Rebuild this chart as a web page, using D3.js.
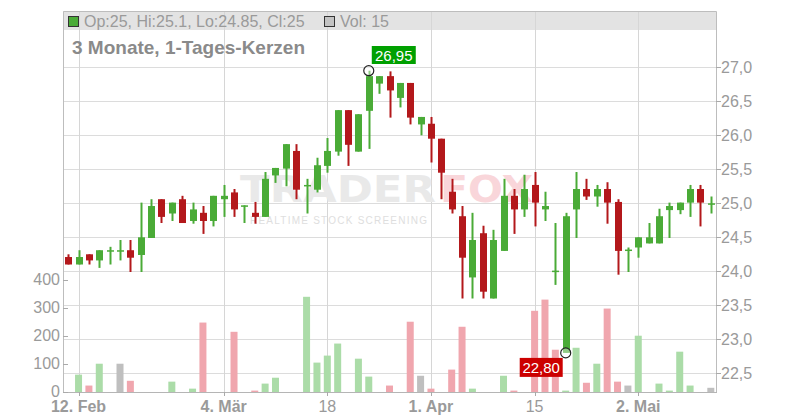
<!DOCTYPE html>
<html><head><meta charset="utf-8">
<script src="https://cdn.jsdelivr.net/npm/d3@7"></script>
<style>body{margin:0;background:#fff}svg{display:block;font-family:"Liberation Sans",Arial,sans-serif}</style>
</head><body><svg id="c" width="800" height="420"></svg>
<script>
// ---------- DATA ----------
const opens  = [24.21,24.10,24.25,24.16,24.30,24.30,24.31,24.24,24.49,25.06,24.85,25.06,24.74,24.86,24.74,25.06,25.16,24.96,24.86,24.80,25.41,25.51,25.77,25.26,25.20,25.55,25.76,26.37,25.76,26.36,26.76,26.87,26.55,26.77,26.16,26.17,25.95,25.17,24.81,23.91,24.56,23.60,24.30,25.11,24.91,25.27,24.91,24.00,22.80,24.91,25.21,25.10,25.21,25.02,24.31,24.35,24.41,24.41,24.90,24.90,25.01,25.21,25.00];
const highs  = [24.25,24.31,24.25,24.31,24.36,24.46,24.46,25.01,25.06,25.06,25.01,25.11,25.01,24.96,25.11,25.27,25.21,24.97,25.02,25.46,25.52,25.87,25.87,25.36,25.67,25.96,26.37,26.37,26.31,26.95,26.87,26.94,26.77,26.77,26.27,26.27,25.95,25.36,24.96,24.86,24.67,24.61,25.36,25.21,25.42,25.46,25.17,24.71,24.86,25.46,25.36,25.27,25.31,25.06,24.35,24.50,24.71,24.92,25.01,25.01,25.27,25.27,25.10];
const lows   = [24.10,24.10,24.10,24.05,24.10,24.16,23.99,23.99,24.49,24.71,24.74,24.71,24.70,24.55,24.66,24.80,24.80,24.71,24.70,24.80,25.30,25.25,25.06,24.85,25.16,25.45,25.70,25.55,25.76,25.80,26.61,26.26,26.41,26.16,26.00,25.60,25.06,24.85,23.60,23.60,23.60,23.60,24.30,24.55,24.80,24.66,24.74,23.80,22.80,24.49,25.05,24.95,24.70,23.95,23.99,24.20,24.41,24.41,24.49,24.84,24.80,24.66,24.85];
const closes = [24.10,24.21,24.16,24.31,24.31,24.31,24.20,24.50,24.96,24.80,25.01,24.71,24.91,24.74,25.11,25.11,24.91,24.97,24.80,25.36,25.52,25.87,25.20,25.27,25.56,25.77,26.37,25.86,26.31,26.87,26.87,26.66,26.77,26.26,26.27,25.95,25.45,24.91,24.20,24.46,23.70,24.46,25.11,24.91,25.21,25.01,24.96,24.01,24.81,25.21,25.10,25.21,25.01,24.30,24.32,24.50,24.50,24.81,24.96,25.01,25.21,25.01,25.00];
const volumes = [0,62,23,101,0,101,40,0,0,0,37,0,12,248,0,0,215,0,5,30,51,0,0,340,105,130,173,0,119,55,0,23,0,251,58,12,0,80,233,12,0,0,58,5,0,290,330,151,5,158,33,101,298,37,23,201,0,30,5,144,23,0,15];
// volume direction: 1 = up, -1 = down, 0 = unchanged
const volumeDir = [0,1,-1,1,0,0,-1,0,0,0,1,0,1,-1,0,0,-1,0,-1,1,1,0,0,1,1,1,1,0,1,1,0,-1,0,-1,0,-1,0,-1,-1,1,0,0,1,-1,0,-1,-1,-1,1,1,-1,1,-1,-1,0,1,0,1,1,1,1,0,0];
const xTickIndex  = [1,15,25,35,45,55];
const xTickLabels = ["12. Feb","4. Mär","18","1. Apr","15","2. Mai"];
const priceTicks  = [22.5,23.0,23.5,24.0,24.5,25.0,25.5,26.0,26.5,27.0];
const volumeTicks = [0,100,200,300,400];
const title = "3 Monate, 1-Tages-Kerzen";

// ---------- CHART ----------
const svg = d3.select("#c");
const L = 63, R = 716, T = 11, HB = 30, B = 392;
const n = closes.length;
const x = d3.scaleBand().domain(d3.range(n)).range([L, R]);
const y = d3.scaleLinear().domain([22.5, 27.0]).range([373.3, 67.3]);
const yv = d3.scaleLinear().domain([0, 400]).range([B, 280]);
const de = d3.formatLocale({decimal: ",", thousands: ".", grouping: [3], currency: ["", "€"]});
const f1 = de.format(".1f"), f2 = de.format(".2f");
const cx = i => x(i) + x.bandwidth() / 2;
const GREEN = "#4aab37", RED = "#b3181b";
const grey = "#9a9a9a";

// header band
svg.append("rect").attr("x", L).attr("y", T).attr("width", R - L).attr("height", HB - T).attr("fill", "#e3e3e3");

// grid
const g = svg.append("g");
g.selectAll("line.h").data(priceTicks).join("line")
  .attr("x1", L).attr("x2", R).attr("y1", d => Math.round(y(d)) + 0.5).attr("y2", d => Math.round(y(d)) + 0.5)
  .attr("stroke", "#dcdcdc");
g.selectAll("line.v").data(xTickIndex).join("line")
  .attr("x1", d => Math.round(cx(d)) + 0.5).attr("x2", d => Math.round(cx(d)) + 0.5)
  .attr("y1", T).attr("y2", B).attr("stroke", "#d6d6d6");

// watermark
const wm = svg.append("g");
wm.append("text").attr("x", 240).attr("y", 202).attr("textLength", 196).attr("lengthAdjust", "spacingAndGlyphs")
  .attr("font-size", 37).attr("font-weight", 900).attr("font-family", "DejaVu Sans").attr("fill", "#e9e9e9").text("TRADER");
wm.append("text").attr("x", 440).attr("y", 202).attr("textLength", 93).attr("lengthAdjust", "spacingAndGlyphs")
  .attr("font-size", 37).attr("font-weight", 900).attr("font-family", "DejaVu Sans").attr("fill", "#f9d6da").text("FOX");
wm.append("text").attr("x", 250).attr("y", 223.5).attr("textLength", 177).attr("lengthAdjust", "spacing")
  .attr("font-size", 10).attr("fill", "#dedede").text("REALTIME STOCK SCREENING");

// frame
svg.append("path").attr("d", `M${L + 0.5},${B}V${T + 0.5}H${R + 0.5}V${B}`).attr("fill", "none").attr("stroke", "#bdbdbd");
svg.append("line").attr("x1", L).attr("x2", R + 1).attr("y1", B + 0.5).attr("y2", B + 0.5).attr("stroke", "#b5b5b5");

// volume bars
const vw = 7;
svg.append("g").selectAll("rect").data(volumes.map((v, i) => ({v, i}))).join("rect")
  .attr("x", d => cx(d.i) - vw / 2).attr("width", vw)
  .attr("y", d => yv(d.v)).attr("height", d => B - yv(d.v))
  .attr("fill", d => volumeDir[d.i] > 0 ? "#abdca8" : volumeDir[d.i] < 0 ? "#f0a6ae" : "#bfbfbf");

// candles
const data = closes.map((c, i) => ({i, o: opens[i], h: highs[i], l: lows[i], c}));
const cg = svg.append("g").selectAll("g").data(data).join("g");
cg.append("line").attr("x1", d => Math.round(cx(d.i)) + 0.5).attr("x2", d => Math.round(cx(d.i)) + 0.5)
  .attr("y1", d => y(d.h)).attr("y2", d => y(d.l)).attr("stroke-width", 2)
  .attr("stroke", d => d.c >= d.o ? GREEN : RED);
cg.append("rect").attr("x", d => Math.round(cx(d.i)) + 0.5 - 3.5).attr("width", 7)
  .attr("y", d => Math.min(y(d.o), y(d.c)))
  .attr("height", d => Math.max(1.5, Math.abs(y(d.o) - y(d.c))))
  .attr("fill", d => d.c >= d.o ? GREEN : RED);

// axes: right price axis
const ra = svg.append("g");
ra.selectAll("line").data(priceTicks).join("line").attr("x1", R).attr("x2", R + 5)
  .attr("y1", d => Math.round(y(d)) + 0.5).attr("y2", d => Math.round(y(d)) + 0.5).attr("stroke", "#aaa");
ra.selectAll("text").data(priceTicks).join("text").attr("x", R + 5).attr("y", d => y(d) + 6)
  .attr("font-size", 16).attr("fill", grey).text(d => f1(d));

// left volume axis
const la = svg.append("g");
la.selectAll("line").data(volumeTicks).join("line").attr("x1", L).attr("x2", L + 5)
  .attr("y1", d => Math.round(yv(d)) + 0.5).attr("y2", d => Math.round(yv(d)) + 0.5).attr("stroke", "#aaa");
la.selectAll("text").data(volumeTicks).join("text").attr("x", L - 3).attr("y", d => yv(d) + 5)
  .attr("text-anchor", "end").attr("font-size", 16).attr("fill", grey).text(d => d);

// x axis labels
const xa = svg.append("g");
xa.selectAll("line").data(xTickIndex).join("line")
  .attr("x1", d => Math.round(cx(d)) + 0.5).attr("x2", d => Math.round(cx(d)) + 0.5)
  .attr("y1", B).attr("y2", B + 4).attr("stroke", "#aaa");
xa.selectAll("text").data(xTickIndex).join("text").attr("x", d => cx(d)).attr("y", 412)
  .attr("text-anchor", "middle").attr("font-size", 16).attr("fill", grey)
  .attr("font-weight", (d, k) => /[A-Za-zä]/.test(xTickLabels[k]) ? "bold" : "normal")
  .text((d, k) => xTickLabels[k]);

// header legend
svg.append("rect").attr("x", 68.5).attr("y", 16.5).attr("width", 10).attr("height", 10)
  .attr("fill", closes[n - 1] >= opens[n - 1] ? GREEN : RED).attr("stroke", "#333");
svg.append("text").attr("x", 84).attr("y", 27.3).attr("font-size", 16).attr("fill", grey)
  .text(`Op:${opens[n - 1]}, Hi:${highs[n - 1]}, Lo:${lows[n - 1]}, Cl:${closes[n - 1]}`);
svg.append("rect").attr("x", 324.5).attr("y", 16.5).attr("width", 10).attr("height", 10)
  .attr("fill", "#c4c4c4").attr("stroke", "#333");
svg.append("text").attr("x", 340).attr("y", 27.3).attr("font-size", 16).attr("fill", grey)
  .text(`Vol: ${volumes[n - 1]}`);

// title
svg.append("text").attr("x", 72).attr("y", 54).attr("font-size", 19).attr("font-weight", "bold")
  .attr("fill", "#8a8a8a").text(title);

// max / min markers
const iMax = d3.maxIndex(highs), iMin = d3.minIndex(lows);
const mx = cx(iMax), my = y(highs[iMax]);
svg.append("rect").attr("x", mx + 3).attr("y", my - 24.7).attr("width", 44).attr("height", 18).attr("fill", "#00a000");
svg.append("text").attr("x", mx + 25).attr("y", my - 10).attr("text-anchor", "middle").attr("font-size", 15)
  .attr("fill", "#fff").text(f2(highs[iMax]));
svg.append("circle").attr("cx", mx).attr("cy", my).attr("r", 5).attr("fill", "rgba(255,255,255,0.4)").attr("stroke", "#222").attr("stroke-width", 1.2);
const nx = cx(iMin), ny = y(lows[iMin]);
svg.append("rect").attr("x", nx - 46).attr("y", ny + 5).attr("width", 43).attr("height", 19).attr("fill", "#cc0000");
svg.append("text").attr("x", nx - 24.5).attr("y", ny + 20).attr("text-anchor", "middle").attr("font-size", 15)
  .attr("fill", "#fff").text(f2(lows[iMin]));
svg.append("circle").attr("cx", nx).attr("cy", ny).attr("r", 5).attr("fill", "rgba(255,255,255,0.4)").attr("stroke", "#222").attr("stroke-width", 1.2);
</script></body></html>
